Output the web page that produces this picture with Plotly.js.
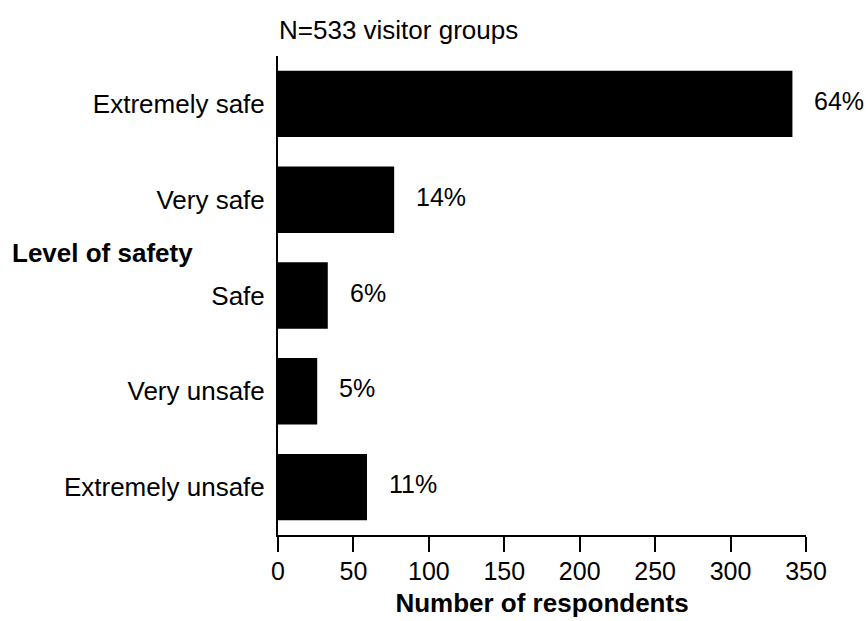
<!DOCTYPE html>
<html>
<head>
<meta charset="utf-8">
<script src="https://cdn.plot.ly/plotly-3.0.1.min.js"></script>
<style>
  html, body { margin: 0; padding: 0; background: #ffffff; }
  #chart { width: 867px; height: 621px; }
</style>
</head>
<body>
<div id="chart"></div>
<script>
const categories = ['Extremely safe', 'Very safe', 'Safe', 'Very unsafe', 'Extremely unsafe'];
const counts = [341, 77, 33, 26, 59];
const percentLabels = ['64%', '14%', '6%', '5%', '11%'];
const xTickValues = [0, 50, 100, 150, 200, 250, 300, 350];
const chartTitle = 'N=533 visitor groups';
const xTitle = 'Number of respondents';
const yTitle = 'Level of safety';

const FONT = '"Liberation Sans", Arial, Helvetica, sans-serif';
const W = 867, H = 621;
const M = { l: 278, r: 61, t: 56, b: 86 };
const plotW = W - M.l - M.r;
const plotH = H - M.t - M.b;

const trace = {
  type: 'bar',
  orientation: 'h',
  x: counts,
  y: categories,
  marker: { color: '#000000', line: { width: 0 } },
  hoverinfo: 'none'
};

const annotations = categories.map((c, i) => ({
  x: counts[i],
  y: c,
  xref: 'x',
  yref: 'y',
  text: percentLabels[i],
  showarrow: false,
  xanchor: 'left',
  yanchor: 'middle',
  xshift: 20,
  yshift: 3,
  font: { family: FONT, size: 25, color: '#000000' }
}));

annotations.push({
  xref: 'paper',
  yref: 'paper',
  x: (10 - M.l) / plotW,
  y: (M.t + plotH - 253) / plotH,
  text: '<b>' + yTitle + '</b>',
  showarrow: false,
  xanchor: 'left',
  yanchor: 'middle',
  font: { family: FONT, size: 26, color: '#000000' }
});

const layout = {
  width: W,
  height: H,
  margin: M,
  paper_bgcolor: '#ffffff',
  plot_bgcolor: '#ffffff',
  showlegend: false,
  bargap: 0.307,
  font: { family: FONT, size: 25, color: '#000000' },
  title: {
    text: chartTitle,
    x: 279 / W,
    xref: 'container',
    xanchor: 'left',
    y: 1 - 30 / H,
    yref: 'container',
    yanchor: 'middle',
    font: { family: FONT, size: 26, color: '#000000' }
  },
  xaxis: {
    range: [0, 350],
    tickmode: 'array',
    tickvals: xTickValues,
    ticktext: xTickValues.map(String),
    ticks: 'outside',
    ticklen: 15,
    tickwidth: 2,
    tickcolor: '#000000',
    showline: true,
    linewidth: 2,
    linecolor: '#000000',
    showgrid: false,
    zeroline: false,
    fixedrange: true,
    ticklabelstandoff: -2,
    tickfont: { family: FONT, size: 25, color: '#000000' },
    title: {
      text: '<b>' + xTitle + '</b>',
      standoff: 10,
      font: { family: FONT, size: 26, color: '#000000' }
    }
  },
  yaxis: {
    autorange: 'reversed',
    ticks: '',
    showline: true,
    linewidth: 2,
    linecolor: '#000000',
    showgrid: false,
    zeroline: false,
    fixedrange: true,
    ticklabelstandoff: 6,
    tickfont: { family: FONT, size: 26, color: '#000000' }
  },
  annotations: annotations
};

Plotly.newPlot('chart', [trace], layout, { displayModeBar: false, staticPlot: true });
</script>
</body>
</html>
